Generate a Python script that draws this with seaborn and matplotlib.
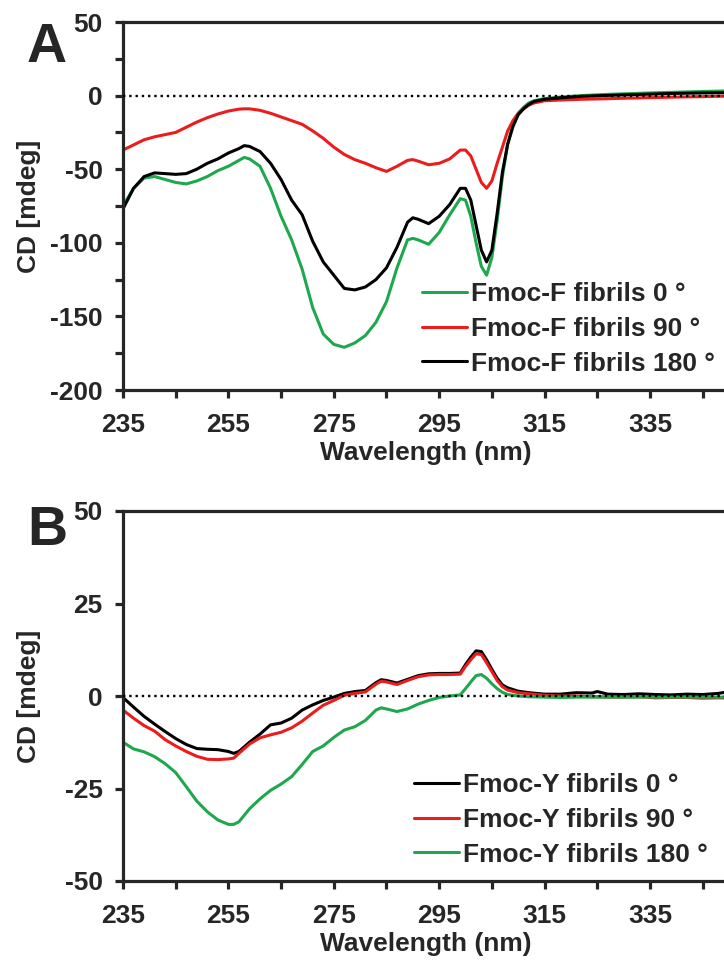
import matplotlib
matplotlib.use("Agg")
import matplotlib.pyplot as plt
from matplotlib.ticker import MultipleLocator
import pandas as pd
import seaborn as sns

# ---- panel A: Fmoc-F fibrils ----
wl_a = [235, 237, 239, 241, 243, 245, 247, 249, 251, 253, 255, 257, 258, 259, 261,
        263, 265, 267, 269, 271, 273, 275, 277, 279, 281, 283, 285, 287, 289, 290,
        291, 293, 295, 297, 299, 300, 301, 302, 303, 304, 305, 306, 307, 308, 309,
        310, 311, 312, 313, 315, 318, 322, 326, 330, 335, 340, 345, 350]
f_0 = [-75, -63, -56, -55, -57, -59, -60, -58, -55, -51, -48, -44, -42, -43, -48,
       -63, -82, -98, -118, -144, -162, -169, -171, -168, -163, -154, -140, -117, -98, -97,
       -98, -101, -93, -81, -70, -71, -82, -100, -116, -122, -110, -85, -55, -33, -20,
       -12, -8, -5, -3.5, -2, -1, 0, 0.7, 1.2, 1.8, 2.3, 2.8, 3.2]
f_90 = [-37, -33.5, -30, -28, -26.5, -25, -21.5, -18, -15, -12.5, -10.5, -9.2, -9, -9, -10,
        -12, -14.5, -17, -19.5, -24, -29, -35, -40, -43.5, -46, -49, -51.5, -48, -44, -43.5,
        -44.5, -47, -46, -43, -37, -37, -41, -50, -59, -63, -58, -46, -35, -24, -17,
        -12, -9, -6.5, -5, -3.5, -3, -2.5, -2.2, -1.8, -1.4, -1, -0.7, -0.3]
f_180 = [-77, -63, -55, -52.5, -53, -53.5, -53, -50, -46, -43, -39, -36, -34, -34.5, -38,
         -46, -57, -71, -81, -99, -113, -122, -131, -132, -130, -125, -117, -103, -86, -83,
         -84, -87, -82, -74, -63, -63, -71, -88, -105, -113, -105, -80, -52, -33, -21,
         -13, -9, -6, -4, -2.5, -1.5, -0.5, 0, 0.5, 1, 1.5, 1.8, 2]
labels_a = ["Fmoc-F fibrils 0 \u00b0", "Fmoc-F fibrils 90 \u00b0", "Fmoc-F fibrils 180 \u00b0"]

# ---- panel B: Fmoc-Y fibrils ----
wl_b = [235, 237, 239, 241, 243, 245, 247, 249, 251, 253, 255, 256, 257, 259, 261,
        263, 265, 267, 269, 271, 273, 275, 277, 279, 281, 283, 284, 285, 287, 289,
        291, 293, 295, 297, 299, 300, 301, 302, 303, 304, 305, 306, 307, 308, 310,
        312, 315, 318, 321, 324, 325, 327, 330, 333, 336, 339, 342, 345, 348, 350]
y_0 = [-0.4, -3, -5.5, -7.6, -9.6, -11.5, -13.1, -14.2, -14.4, -14.5, -15, -15.5, -15, -12.5, -10.3,
       -7.8, -7.3, -6, -3.8, -2.4, -1.2, -0.3, 0.7, 1.2, 1.5, 3.6, 4.4, 4.2, 3.5, 4.5,
       5.5, 6, 6.1, 6.1, 6.2, 8.5, 10.5, 12.2, 12, 9.8, 7.2, 4.8, 3, 2.2, 1.3,
       0.9, 0.5, 0.5, 0.9, 0.8, 1.2, 0.5, 0.4, 0.6, 0.4, 0.3, 0.5, 0.4, 0.7, 1.2]
y_90 = [-3.8, -6, -8, -9.5, -11.8, -13.5, -15, -16.3, -17.1, -17.2, -17, -16.8, -15.5, -13, -11.3,
        -10.5, -9.8, -8.6, -6.8, -4.6, -2.5, -1.2, 0.2, 0.7, 1.1, 3.2, 4, 3.8, 3.1, 4.2,
        5.2, 5.7, 5.8, 5.8, 5.9, 8, 9.8, 11.4, 11.2, 9, 6.6, 4.2, 2.5, 1.6, 0.9,
        0.6, 0.2, 0, 0, -0.2, -0.2, -0.3, -0.3, -0.2, -0.5, -0.4, -0.4, -0.6, -0.5, -0.6]
y_180 = [-12.5, -14.3, -15.1, -16.4, -18.3, -20.7, -24.5, -28.4, -31.3, -33.5, -34.7, -34.7, -34, -30.5, -27.8,
         -25.5, -23.8, -21.8, -18.5, -15, -13.5, -11.2, -9.2, -8.3, -6.6, -3.8, -3.2, -3.5, -4.2, -3.5,
         -2.2, -1.2, -0.4, 0, 0.3, 2, 3.8, 5.5, 5.8, 4.8, 3.3, 2, 1, 0.4, 0,
         -0.2, -0.3, -0.4, -0.3, -0.3, -0.3, -0.3, -0.3, -0.3, -0.3, -0.3, -0.3, -0.3, -0.3, -0.3]
labels_b = ["Fmoc-Y fibrils 0 \u00b0", "Fmoc-Y fibrils 90 \u00b0", "Fmoc-Y fibrils 180 \u00b0"]

GREEN = "#1ea84e"
RED = "#ec1c1c"
BLACK = "#000000"

sns.set_style("ticks")
plt.rcParams["font.family"] = ["Liberation Sans", "DejaVu Sans"]
plt.rcParams["font.weight"] = "bold"
plt.rcParams["axes.labelweight"] = "bold"
plt.rcParams["axes.unicode_minus"] = False
FS = 19


def long_form(wl, series, labels):
    frames = [pd.DataFrame({"wavelength": wl, "cd": s, "sample": lab})
              for s, lab in zip(series, labels)]
    return pd.concat(frames, ignore_index=True)


def draw_panel(fig, rect, df, labels, colors, ylim, ymajor, yminor, leg_xy, tag):
    ax = fig.add_axes(rect)
    sns.lineplot(data=df, x="wavelength", y="cd", hue="sample", hue_order=labels,
                 palette=dict(zip(labels, colors)), linewidth=2.2, ax=ax, sort=False)
    ax.axhline(0, color="black", linestyle=":", linewidth=1.7, zorder=3)
    ax.set_xlim(235, 350)
    ax.set_ylim(*ylim)
    ax.set_xticks(range(235, 351, 20))
    ax.set_xticks(range(245, 351, 20), minor=True)
    ax.yaxis.set_major_locator(MultipleLocator(ymajor))
    if yminor:
        ax.yaxis.set_minor_locator(MultipleLocator(yminor))
    for side in ["left", "bottom", "top", "right"]:
        ax.spines[side].set_linewidth(2.3)
    ax.tick_params(which="both", direction="out", length=5.5, width=2.3,
                   top=False, right=False)
    ax.tick_params(axis="x", which="major", labelsize=FS, pad=11)
    ax.tick_params(axis="y", which="major", labelsize=FS, pad=9)
    ax.set_xlabel("Wavelength (nm)", fontsize=FS, labelpad=3)
    ax.set_ylabel("CD [mdeg]", fontsize=FS)
    ax.yaxis.set_label_coords(-0.135, 0.5)
    handles, labs = ax.get_legend_handles_labels()
    for h in handles:
        h.set_linewidth(2.2)
    ax.legend(handles, labs, loc="center left", bbox_to_anchor=leg_xy,
              bbox_transform=fig.transFigure, frameon=False, fontsize=FS,
              handlelength=1.7, handletextpad=0.15, labelspacing=0.4,
              borderpad=0, borderaxespad=0)
    fig.text(tag[0], tag[1], tag[2], fontsize=40, fontweight="bold", va="baseline")
    return ax


W, H = 724, 961
fig = plt.figure(figsize=(W / 100, H / 100), dpi=100)

left = 123 / W
width = (729 - 123) / W

df_a = long_form(wl_a, [f_0, f_90, f_180], labels_a)
draw_panel(fig, [left, 1 - 390 / H, width, 368 / H], df_a, labels_a,
           [GREEN, RED, BLACK], (-200, 50), 50, 25,
           (422 / W, 1 - 329 / H), (27 / W, 1 - 62 / H, "A"))

df_b = long_form(wl_b, [y_0, y_90, y_180], labels_b)
draw_panel(fig, [left, 1 - 881 / H, width, 370 / H], df_b, labels_b,
           [BLACK, RED, GREEN], (-50, 50), 25, None,
           (414 / W, 1 - 820 / H), (27 / W, 1 - 545 / H, "B"))

fig.savefig("out.png", dpi=100)
